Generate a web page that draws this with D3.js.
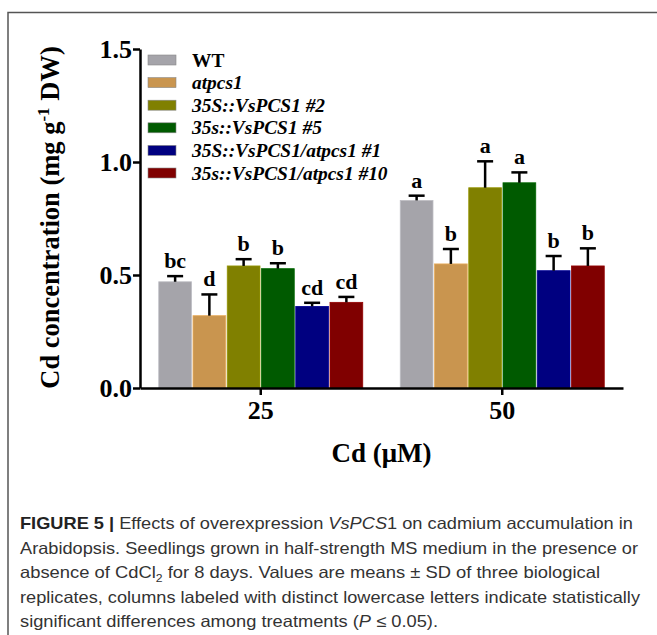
<!DOCTYPE html>
<html>
<head>
<meta charset="utf-8">
<script src="https://cdn.jsdelivr.net/npm/d3@7"></script>
<style>
  body { margin: 0; background: #fff; }
  svg { display: block; }
</style>
</head>
<body>
<svg id="chart"></svg>
<script>
const WIDTH = 657;
const HEIGHT = 635;

// data
const doses = ['25', '50'];
const lines = ['WT', 'atpcs1', '35S::VsPCS1 #2', '35s::VsPCS1 #5', '35S::VsPCS1/atpcs1 #1', '35s::VsPCS1/atpcs1 #10'];
const means25 = [0.47, 0.32, 0.54, 0.528, 0.361, 0.379];
const sd25 = [0.025, 0.094, 0.03, 0.024, 0.016, 0.024];
const letters25 = ['bc', 'd', 'b', 'b', 'cd', 'cd'];
const means50 = [0.83, 0.549, 0.886, 0.908, 0.519, 0.54];
const sd50 = [0.021, 0.066, 0.117, 0.046, 0.065, 0.078];
const letters50 = ['a', 'b', 'a', 'a', 'b', 'b'];
const yTicks = [0, 0.5, 1.0, 1.5];
const colors = ['#a5a4aa', '#c9954f', '#808000', '#005a00', '#000080', '#800000'];

const captionLines = [
    'Effects of overexpression VsPCS1 on cadmium accumulation in',
    'Arabidopsis. Seedlings grown in half-strength MS medium in the presence or',
    'absence of CdCl2 for 8 days. Values are means \u00b1 SD of three biological',
    'replicates, columns labeled with distinct lowercase letters indicate statistically',
    'significant differences among treatments (P \u2264 0.05).'
];

var svg = d3.select('#chart').attr('width', WIDTH).attr('height', HEIGHT);

// frame around the figure (open to the right and bottom)
svg.append('path')
    .attr('d', 'M8,' + HEIGHT + ' V12.5 H' + WIDTH)
    .attr('fill', 'none')
    .attr('stroke', '#555')
    .attr('stroke-width', 1.5);

var data = [];
doses.forEach(function(dose, i) {
    var m = i === 0 ? means25 : means50;
    var s = i === 0 ? sd25 : sd50;
    var l = i === 0 ? letters25 : letters50;
    lines.forEach(function(name, j) {
        data.push({dose: dose, line: name, mean: m[j], sd: s[j], letter: l[j], color: colors[j]});
    });
});

var x0 = 140, x1 = 623, yBottom = 388, yTop = 49;

var xScale = d3.scaleBand().domain(doses).range([x0, x1]).padding(0);
var subScale = d3.scaleBand().domain(lines).range([18, xScale.bandwidth() - 18]).padding(0);
var yScale = d3.scaleLinear().domain([0, 1.5]).range([yBottom, yTop]);

var font = '"Liberation Serif", "Times New Roman", serif';

// bars
var g = svg.append('g');
g.selectAll('rect.bar')
    .data(data)
    .enter()
    .append('rect')
    .attr('class', 'bar')
    .attr('x', function(d) { return xScale(d.dose) + subScale(d.line) + 0.75; })
    .attr('y', function(d) { return yScale(d.mean); })
    .attr('width', subScale.bandwidth() - 1.5)
    .attr('height', function(d) { return yBottom - yScale(d.mean); })
    .attr('fill', function(d) { return d.color; })
    .attr('stroke', function(d) { return d3.color(d.color).brighter(0.4); })
    .attr('stroke-width', 0.8);

// error bars (upper only)
var cx = function(d) { return xScale(d.dose) + subScale(d.line) + subScale.bandwidth() / 2; };
g.selectAll('line.err')
    .data(data)
    .enter()
    .append('line')
    .attr('x1', cx).attr('x2', cx)
    .attr('y1', function(d) { return yScale(d.mean); })
    .attr('y2', function(d) { return yScale(d.mean + d.sd); })
    .attr('stroke', '#000').attr('stroke-width', 2.5);
g.selectAll('line.cap')
    .data(data)
    .enter()
    .append('line')
    .attr('x1', function(d) { return cx(d) - 8; })
    .attr('x2', function(d) { return cx(d) + 8; })
    .attr('y1', function(d) { return yScale(d.mean + d.sd); })
    .attr('y2', function(d) { return yScale(d.mean + d.sd); })
    .attr('stroke', '#000').attr('stroke-width', 2.5);

// significance letters
g.selectAll('text.letter')
    .data(data)
    .enter()
    .append('text')
    .attr('x', cx)
    .attr('y', function(d) { return yScale(d.mean + d.sd) - 8; })
    .attr('text-anchor', 'middle')
    .style('font-family', font)
    .style('font-weight', 'bold')
    .style('font-size', '22px')
    .text(function(d) { return d.letter; });

// axes
var leftAxis = d3.axisLeft(yScale).tickValues(yTicks).tickFormat(d3.format('.1f')).tickSize(7).tickSizeOuter(0);
var ya = svg.append('g').attr('transform', 'translate(' + x0 + ',0)').call(leftAxis);
var bottomAxis = d3.axisBottom(xScale).tickSize(7).tickSizeOuter(0);
var xa = svg.append('g').attr('transform', 'translate(0,' + yBottom + ')').call(bottomAxis);
[ya, xa].forEach(function(a) {
    a.select('.domain').attr('stroke', '#000').attr('stroke-width', 2.5);
    a.selectAll('.tick line').attr('stroke', '#000').attr('stroke-width', 2.5);
    a.selectAll('.tick text')
        .style('font-family', font)
        .style('font-weight', 'bold')
        .style('font-size', '26px')
        .attr('fill', '#000');
});
ya.selectAll('.tick text').attr('x', -8).attr('dy', '0.34em');
xa.selectAll('.tick text').attr('y', 13);

// axis titles
svg.append('text')
    .attr('x', (x0 + x1) / 2)
    .attr('y', 462)
    .attr('text-anchor', 'middle')
    .style('font-family', font)
    .style('font-weight', 'bold')
    .style('font-size', '27px')
    .text('Cd (\u03bcM)');

var yt = svg.append('text')
    .attr('transform', 'translate(59,' + ((yBottom + yTop) / 2 - 1) + ') rotate(-90)')
    .attr('text-anchor', 'middle')
    .style('font-family', font)
    .style('font-weight', 'bold')
    .style('font-size', '26.5px');
yt.append('tspan').text('Cd concentration (mg g');
yt.append('tspan').attr('dy', -10).style('font-size', '17px').text('-1');
yt.append('tspan').attr('dy', 10).text(' DW)');

// legend
var legend = svg.append('g').attr('transform', 'translate(148,55)');
var items = legend.selectAll('g')
    .data(lines)
    .enter()
    .append('g')
    .attr('transform', function(d, i) { return 'translate(0,' + (i * 22.6) + ')'; });
items.append('rect')
    .attr('width', 28).attr('height', 10)
    .attr('fill', function(d, i) { return colors[i]; })
    .attr('stroke', '#888').attr('stroke-width', 0.6);
items.append('text')
    .attr('x', 44).attr('y', 11.5)
    .style('font-family', font)
    .style('font-weight', 'bold')
    .style('font-style', function(d, i) { return i === 0 ? 'normal' : 'italic'; })
    .style('font-size', '19.4px')
    .text(function(d) { return d; });

// caption
var cap = svg.append('g').style('font-family', '"Liberation Sans", Arial, sans-serif').style('font-size', '16.5px').attr('fill', '#333');
var widths = [613, 618, 580, 620, 418];
captionLines.forEach(function(t, i) {
    var tx = cap.append('text').attr('x', 20).attr('y', 529 + i * 24.5)
        .attr('textLength', widths[i]).attr('lengthAdjust', 'spacingAndGlyphs');
    if (i === 0) {
        tx.append('tspan').style('font-weight', 'bold').attr('fill', '#222').text('FIGURE 5 | ');
        tx.append('tspan').text('Effects of overexpression ');
        tx.append('tspan').style('font-style', 'italic').text('VsPCS');
        tx.append('tspan').text('1 on cadmium accumulation in');
    } else if (i === 2) {
        tx.append('tspan').text('absence of CdCl');
        tx.append('tspan').attr('dy', 4).style('font-size', '11px').text('2');
        tx.append('tspan').attr('dy', -4).text(' for 8 days. Values are means \u00b1 SD of three biological');
    } else if (i === 4) {
        tx.append('tspan').text('significant differences among treatments (');
        tx.append('tspan').style('font-style', 'italic').text('P');
        tx.append('tspan').text(' \u2264 0.05).');
    } else {
        tx.text(t);
    }
});
</script>
</body>
</html>
